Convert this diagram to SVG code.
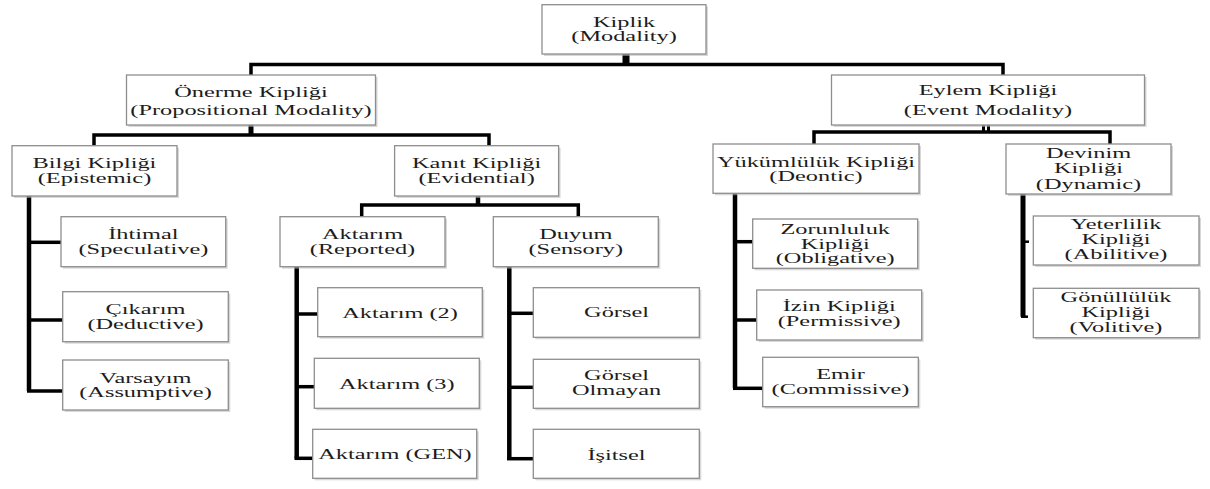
<svg xmlns="http://www.w3.org/2000/svg" width="1210" height="489" viewBox="0 0 1210 489">
<style>
.box{fill:#fff;stroke:#8e8e8e;stroke-width:1.3}
.sh{fill:#b8b8b8;opacity:.55}
.t{font-family:"Liberation Serif","Times New Roman",serif;font-size:14.5px;fill:#1c1c1c;text-anchor:middle}
.v{stroke:#000;stroke-width:4.5;fill:none}
.h{stroke:#000;stroke-width:3.5;fill:none}
</style>
<rect width="1210" height="489" fill="#fff"/>
<g id="connectors">
<line class="v" x1="626" y1="54" x2="626" y2="65" style="stroke-width:7"/>
<path class="h" d="M251,75 V64.5 H1003 V75"/>
<line class="v" x1="251" y1="125" x2="251" y2="136" style="stroke-width:5"/>
<path class="h" d="M94,146 V135 H489 V146"/>
<path class="v" d="M29,196 V391"/>
<line class="h" x1="29" y1="242.3" x2="61" y2="242.3"/>
<line class="h" x1="29" y1="320" x2="62.7" y2="320"/>
<line class="h" x1="27" y1="391" x2="62.7" y2="391"/>
<line class="v" x1="478" y1="196" x2="478" y2="206"/>
<path class="h" d="M361.7,217 V205 H578.3 V217"/>
<path class="v" d="M296.7,267 V458.3"/>
<line class="h" x1="296.7" y1="314" x2="317.7" y2="314"/>
<line class="h" x1="296.7" y1="386.7" x2="314.3" y2="386.7"/>
<line class="h" x1="294.5" y1="458.3" x2="312.7" y2="458.3"/>
<path class="v" d="M509.3,267 V459"/>
<line class="h" x1="509.3" y1="313.3" x2="533.3" y2="313.3"/>
<line class="h" x1="509.3" y1="387.3" x2="533.3" y2="387.3"/>
<line class="h" x1="507" y1="458.7" x2="533.3" y2="458.7"/>
<line class="v" x1="983.5" y1="125" x2="983.5" y2="133" style="stroke-width:3"/>
<line class="v" x1="988.5" y1="125" x2="988.5" y2="133" style="stroke-width:3"/>
<path class="h" d="M814,144 V132 H1110 V144"/>
<path class="v" d="M735,193 V388.3"/>
<line class="h" x1="735" y1="241.7" x2="752.7" y2="241.7"/>
<line class="h" x1="735" y1="320" x2="756.7" y2="320"/>
<line class="h" x1="733" y1="388.3" x2="762.7" y2="388.3"/>
<path class="v" d="M1023,194 V316.7" style="stroke-width:5"/>
<line class="h" x1="1023" y1="241.7" x2="1029" y2="241.7" style="stroke-width:2.5"/>
<line class="h" x1="1021" y1="316.7" x2="1028" y2="316.7" style="stroke-width:2.5"/>
</g>
<g id="n-kiplik">
<rect class="sh" x="544" y="6.5" width="164" height="49.5"/>
<rect class="box" x="542" y="4.7" width="164" height="49.3"/>
<text class="t" transform="translate(624,0) scale(1.68,1)"><tspan x="0" y="27">Kiplik</tspan><tspan x="0" y="41.5">(Modality)</tspan></text>
</g>
<g id="n-onerme">
<rect class="sh" x="128.5" y="77" width="249" height="50"/>
<rect class="box" x="126.5" y="75" width="249" height="50"/>
<text class="t" transform="translate(251,0) scale(1.68,1)"><tspan x="0" y="97">Önerme Kipliği</tspan><tspan x="0" y="115">(Propositional Modality)</tspan></text>
</g>
<g id="n-eylem">
<rect class="sh" x="833.5" y="77" width="313" height="50"/>
<rect class="box" x="831.5" y="75" width="313" height="50"/>
<text class="t" transform="translate(988,0) scale(1.68,1)"><tspan x="0" y="95.5">Eylem Kipliği</tspan><tspan x="0" y="115.5">(Event Modality)</tspan></text>
</g>
<g id="n-bilgi">
<rect class="sh" x="14" y="147.7" width="165" height="50.3"/>
<rect class="box" x="12" y="145.7" width="165" height="50.3"/>
<text class="t" transform="translate(94.5,0) scale(1.68,1)"><tspan x="0" y="168.5">Bilgi Kipliği</tspan><tspan x="0" y="183">(Epistemic)</tspan></text>
</g>
<g id="n-kanit">
<rect class="sh" x="396.6" y="147.7" width="164" height="50.3"/>
<rect class="box" x="394.6" y="145.7" width="164" height="50.3"/>
<text class="t" transform="translate(476.6,0) scale(1.68,1)"><tspan x="0" y="168.5">Kanıt Kipliği</tspan><tspan x="0" y="183">(Evidential)</tspan></text>
</g>
<g id="n-yukumluluk">
<rect class="sh" x="715" y="146" width="206" height="49.3"/>
<rect class="box" x="713" y="144" width="206" height="49.3"/>
<text class="t" transform="translate(816,0) scale(1.68,1)"><tspan x="0" y="166.7">Yükümlülük Kipliği</tspan><tspan x="0" y="181">(Deontic)</tspan></text>
</g>
<g id="n-devinim">
<rect class="sh" x="1008" y="146" width="165" height="50"/>
<rect class="box" x="1006" y="144" width="165" height="50"/>
<text class="t" transform="translate(1088.5,0) scale(1.68,1)"><tspan x="0" y="158.3">Devinim</tspan><tspan x="0" y="173.5">Kipliği</tspan><tspan x="0" y="189">(Dynamic)</tspan></text>
</g>
<g id="n-ihtimal">
<rect class="sh" x="63" y="218.7" width="164.7" height="50"/>
<rect class="box" x="61" y="216.7" width="164.7" height="50"/>
<text class="t" transform="translate(143.4,0) scale(1.68,1)"><tspan x="0" y="239.3">İhtimal</tspan><tspan x="0" y="254">(Speculative)</tspan></text>
</g>
<g id="n-cikarim">
<rect class="sh" x="64.7" y="293.7" width="165.6" height="50"/>
<rect class="box" x="62.7" y="291.7" width="165.6" height="50"/>
<text class="t" transform="translate(145.5,0) scale(1.68,1)"><tspan x="0" y="314.5">Çıkarım</tspan><tspan x="0" y="329">(Deductive)</tspan></text>
</g>
<g id="n-varsayim">
<rect class="sh" x="64.7" y="362" width="165.6" height="50"/>
<rect class="box" x="62.7" y="360" width="165.6" height="50"/>
<text class="t" transform="translate(145.5,0) scale(1.68,1)"><tspan x="0" y="382.8">Varsayım</tspan><tspan x="0" y="397.3">(Assumptive)</tspan></text>
</g>
<g id="n-aktarim">
<rect class="sh" x="282" y="218.7" width="165" height="50"/>
<rect class="box" x="280" y="216.7" width="165" height="50"/>
<text class="t" transform="translate(362.5,0) scale(1.68,1)"><tspan x="0" y="239.3">Aktarım</tspan><tspan x="0" y="254">(Reported)</tspan></text>
</g>
<g id="n-duyum">
<rect class="sh" x="495.3" y="218.7" width="165" height="50"/>
<rect class="box" x="493.3" y="216.7" width="165" height="50"/>
<text class="t" transform="translate(575.8,0) scale(1.68,1)"><tspan x="0" y="239.3">Duyum</tspan><tspan x="0" y="254">(Sensory)</tspan></text>
</g>
<g id="n-aktarim2">
<rect class="sh" x="319.7" y="289.7" width="164.6" height="49"/>
<rect class="box" x="317.7" y="287.7" width="164.6" height="49"/>
<text class="t" transform="translate(400,0) scale(1.68,1)"><tspan x="0" y="318">Aktarım (2)</tspan></text>
</g>
<g id="n-aktarim3">
<rect class="sh" x="316.3" y="360.3" width="165" height="50"/>
<rect class="box" x="314.3" y="358.3" width="165" height="50"/>
<text class="t" transform="translate(396.8,0) scale(1.68,1)"><tspan x="0" y="389">Aktarım (3)</tspan></text>
</g>
<g id="n-aktarimgen">
<rect class="sh" x="314.7" y="431.3" width="164" height="49"/>
<rect class="box" x="312.7" y="429.3" width="164" height="49"/>
<text class="t" transform="translate(395,0) scale(1.68,1)"><tspan x="0" y="459.5">Aktarım (GEN)</tspan></text>
</g>
<g id="n-gorsel">
<rect class="sh" x="535.3" y="289.7" width="166" height="49.6"/>
<rect class="box" x="533.3" y="287.7" width="166" height="49.6"/>
<text class="t" transform="translate(616.5,0) scale(1.68,1)"><tspan x="0" y="317.5">Görsel</tspan></text>
</g>
<g id="n-gorselolmayan">
<rect class="sh" x="535.3" y="361.3" width="166" height="49"/>
<rect class="box" x="533.3" y="359.3" width="166" height="49"/>
<text class="t" transform="translate(616.5,0) scale(1.68,1)"><tspan x="0" y="380.5">Görsel</tspan><tspan x="0" y="395.3">Olmayan</tspan></text>
</g>
<g id="n-isitsel">
<rect class="sh" x="535.3" y="431.3" width="166" height="49"/>
<rect class="box" x="533.3" y="429.3" width="166" height="49"/>
<text class="t" transform="translate(616.5,0) scale(1.68,1)"><tspan x="0" y="460">İşitsel</tspan></text>
</g>
<g id="n-zorunluluk">
<rect class="sh" x="754.7" y="221" width="165" height="49.3"/>
<rect class="box" x="752.7" y="219" width="165" height="49.3"/>
<text class="t" transform="translate(835.2,0) scale(1.68,1)"><tspan x="0" y="234">Zorunluluk</tspan><tspan x="0" y="248.7">Kipliği</tspan><tspan x="0" y="263.4">(Obligative)</tspan></text>
</g>
<g id="n-izin">
<rect class="sh" x="758.7" y="292" width="165" height="50"/>
<rect class="box" x="756.7" y="290" width="165" height="50"/>
<text class="t" transform="translate(839.2,0) scale(1.68,1)"><tspan x="0" y="311">İzin Kipliği</tspan><tspan x="0" y="325.7">(Permissive)</tspan></text>
</g>
<g id="n-emir">
<rect class="sh" x="764.7" y="359.3" width="155.6" height="49.4"/>
<rect class="box" x="762.7" y="357.3" width="155.6" height="49.4"/>
<text class="t" transform="translate(840.5,0) scale(1.68,1)"><tspan x="0" y="379.3">Emir</tspan><tspan x="0" y="394">(Commissive)</tspan></text>
</g>
<g id="n-yeterlilik">
<rect class="sh" x="1035.3" y="218" width="165.7" height="49"/>
<rect class="box" x="1033.3" y="216" width="165.7" height="49"/>
<text class="t" transform="translate(1116,0) scale(1.68,1)"><tspan x="0" y="229.3">Yeterlilik</tspan><tspan x="0" y="244">Kipliği</tspan><tspan x="0" y="258.7">(Abilitive)</tspan></text>
</g>
<g id="n-gonulluluk">
<rect class="sh" x="1035.3" y="290.3" width="165.7" height="49.4"/>
<rect class="box" x="1033.3" y="288.3" width="165.7" height="49.4"/>
<text class="t" transform="translate(1116,0) scale(1.68,1)"><tspan x="0" y="301.7">Gönüllülük</tspan><tspan x="0" y="316.7">Kipliği</tspan><tspan x="0" y="331.7">(Volitive)</tspan></text>
</g>
</svg>
